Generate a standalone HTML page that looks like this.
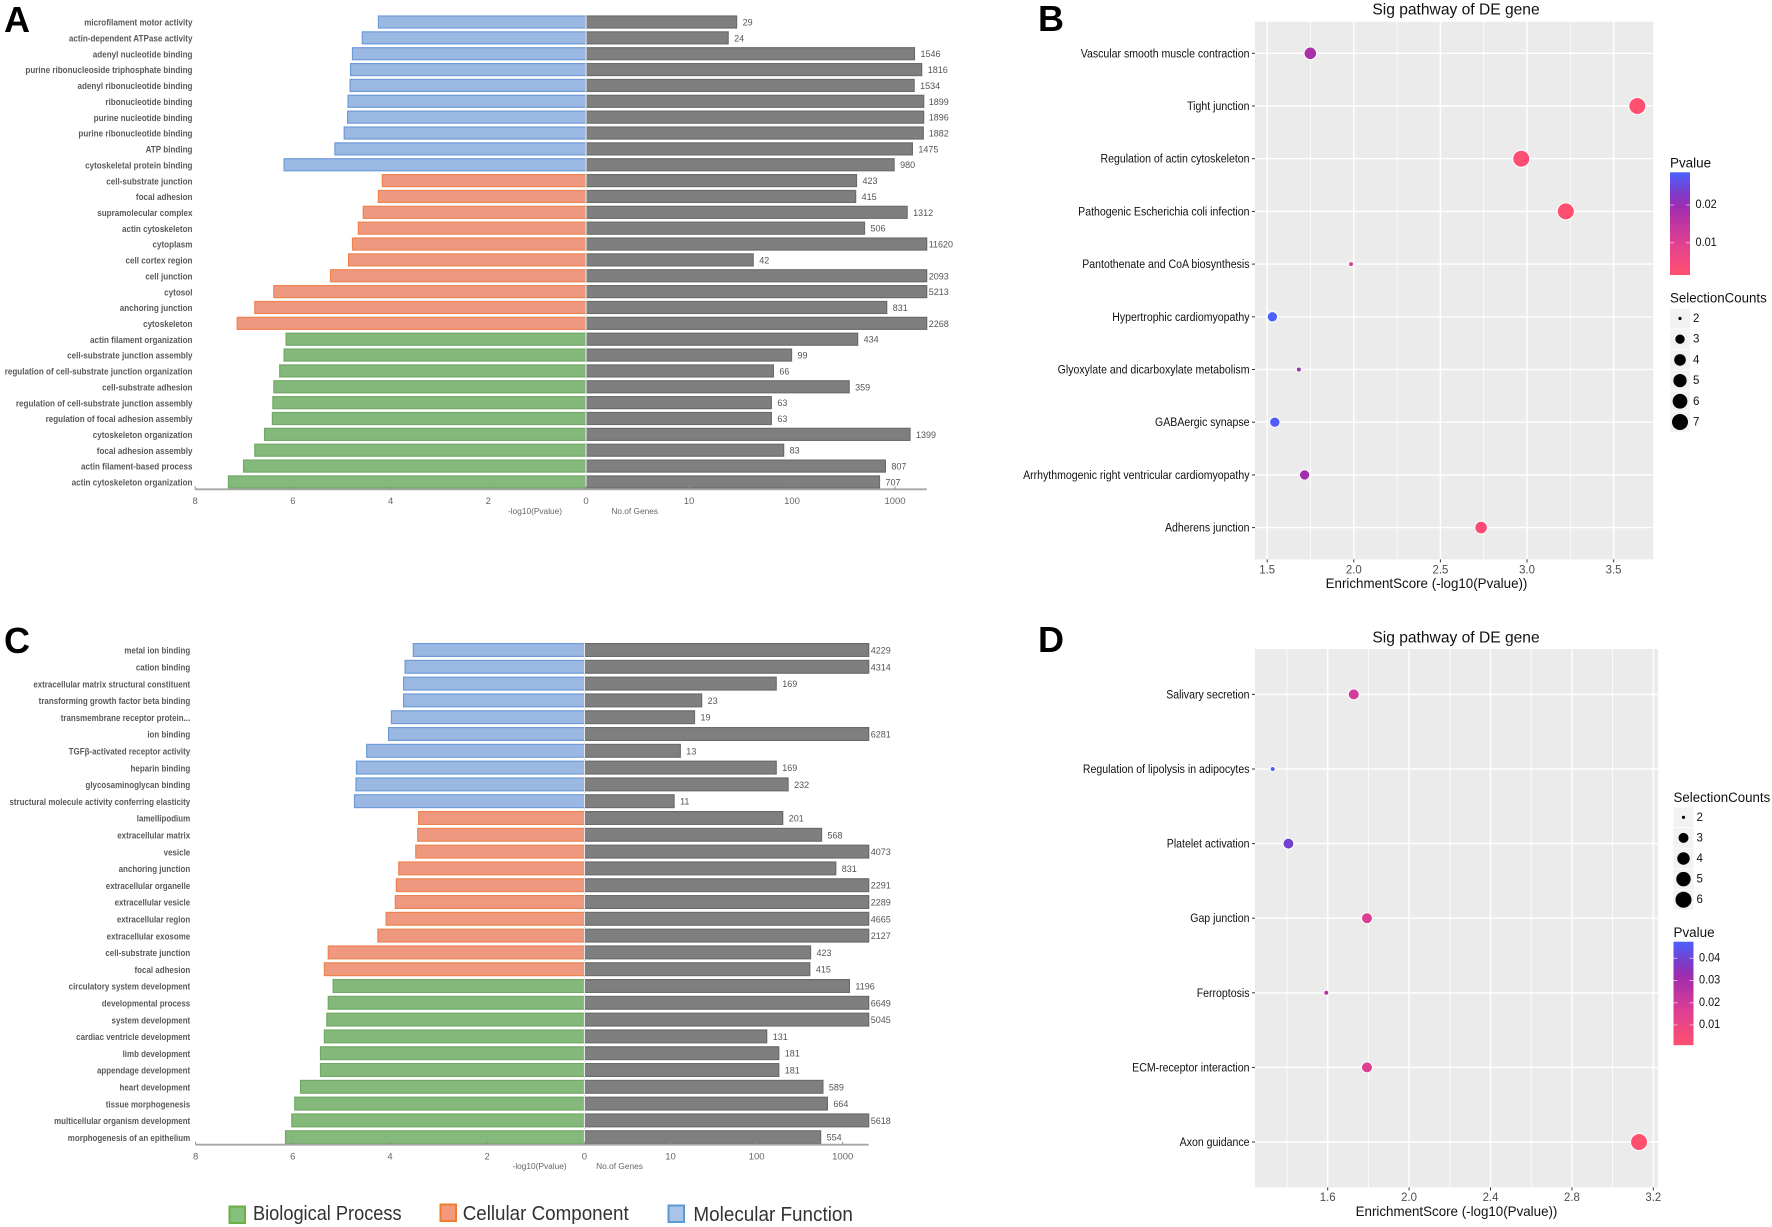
<!DOCTYPE html>
<html lang="en">
<head>
<meta charset="utf-8">
<title>GO enrichment and pathway charts</title>
<style>
html,body{margin:0;padding:0;background:#fff;}
svg{display:block;font-family:"Liberation Sans",sans-serif;}
.soft{filter:blur(0.35px);}
</style>
</head>
<body>
<svg id="figure" xmlns="http://www.w3.org/2000/svg" width="1772" height="1227" viewBox="0 0 1772 1227">
  <defs>
    <linearGradient id="pvalue-gradient" x1="0" y1="0" x2="0" y2="1">
      <stop offset="0" stop-color="#4b61ff"/>
      <stop offset="0.2" stop-color="#7c3cc8"/>
      <stop offset="0.34" stop-color="#a02cae"/>
      <stop offset="0.67" stop-color="#de3f93"/>
      <stop offset="1" stop-color="#ff5070"/>
    </linearGradient>
  </defs>
</svg>
<script>
// ---------- Panel A data ----------
const aCategories = ["microfilament motor activity","actin-dependent ATPase activity","adenyl nucleotide binding","purine ribonucleoside triphosphate binding","adenyl ribonucleotide binding","ribonucleotide binding","purine nucleotide binding","purine ribonucleotide binding","ATP binding","cytoskeletal protein binding","cell-substrate junction","focal adhesion","supramolecular complex","actin cytoskeleton","cytoplasm","cell cortex region","cell junction","cytosol","anchoring junction","cytoskeleton","actin filament organization","cell-substrate junction assembly","regulation of cell-substrate junction organization","cell-substrate adhesion","regulation of cell-substrate junction assembly","regulation of focal adhesion assembly","cytoskeleton organization","focal adhesion assembly","actin filament-based process","actin cytoskeleton organization"];
const aLog10P = [4.25,4.58,4.78,4.82,4.83,4.87,4.88,4.95,5.14,6.18,4.17,4.25,4.56,4.66,4.78,4.86,5.23,6.39,6.78,7.14,6.14,6.18,6.27,6.39,6.41,6.42,6.58,6.78,7.01,7.32];
const aGenes = [29,24,1546,1816,1534,1899,1896,1882,1475,980,423,415,1312,506,11620,42,2093,5213,831,2268,434,99,66,359,63,63,1399,83,807,707];

// ---------- Panel C data ----------
const cCategories = ["metal ion binding","cation binding","extracellular matrix structural constituent","transforming growth factor beta binding","transmembrane receptor protein...","ion binding","TGFβ-activated receptor activity","heparin binding","glycosaminoglycan binding","structural molecule activity conferring elasticity","lamellipodium","extracellular matrix","vesicle","anchoring junction","extracellular organelle","extracellular vesicle","extracellular region","extracellular exosome","cell-substrate junction","focal adhesion","circulatory system development","developmental process","system development","cardiac ventricle development","limb development","appendage development","heart development","tissue morphogenesis","multicellular organism development","morphogenesis of an epithelium"];
const cLog10P = [3.52,3.69,3.72,3.72,3.97,4.03,4.48,4.69,4.70,4.73,3.41,3.43,3.47,3.82,3.87,3.89,4.08,4.25,5.27,5.35,5.17,5.27,5.30,5.35,5.43,5.43,5.84,5.96,6.02,6.15];
const cGenes = [4229,4314,169,23,19,6281,13,169,232,11,201,568,4073,831,2291,2289,4665,2127,423,415,1196,6649,5045,131,181,181,589,664,5618,554];

// ---------- Bar axis ticks ----------
const pTicks = [8,6,4,2,0];
const geneTicks = [10,100,1000];

// ---------- Panel B data ----------
const bPathways = ["Vascular smooth muscle contraction","Tight junction","Regulation of actin cytoskeleton","Pathogenic Escherichia coli infection","Pantothenate and CoA biosynthesis","Hypertrophic cardiomyopathy","Glyoxylate and dicarboxylate metabolism","GABAergic synapse","Arrhythmogenic right ventricular cardiomyopathy","Adherens junction"];
const bScores = [1.749,3.637,2.967,3.224,1.984,1.53,1.683,1.544,1.716,2.735];
const bCounts = [4,7,7,7,2,3,2,3,3,4];
const bMajorTicks = [1.5,2.0,2.5,3.0,3.5];
const bMinorTicks = [1.75,2.25,2.75,3.25];
const bSizeLegend = [2,3,4,5,6,7];
const bPvalueTicks = [0.02,0.01];

// ---------- Panel D data ----------
const dPathways = ["Salivary secretion","Regulation of lipolysis in adipocytes","Platelet activation","Gap junction","Ferroptosis","ECM-receptor interaction","Axon guidance"];
const dScores = [1.728,1.33,1.407,1.793,1.593,1.793,3.13];
const dCounts = [3,2,3,3,2,3,6];
const dMajorTicks = [1.6,2.0,2.4,2.8,3.2];
const dMinorTicks = [1.4,1.8,2.2,2.6,3.0];
const dSizeLegend = [2,3,4,5,6];
const dPvalueTicks = [0.04,0.03,0.02,0.01];

// ---------- Helpers ----------
const NS = 'http://www.w3.org/2000/svg';
const root = document.getElementById('figure');

function mark(tag, attrs, name, parent) {
  const el = document.createElementNS(NS, tag);
  for (const k in attrs) el.setAttribute(k, attrs[k]);
  
  
  (parent || root).appendChild(el);
  return el;
}
function label(x, y, str, name, o) {
  o = o || {};
  const el = document.createElementNS(NS, 'text');
  el.setAttribute('transform', 'translate(' + x + ',' + y + ') scale(' + (o.sx || 1) + ',1)');
  el.setAttribute('font-size', o.size || 12);
  el.setAttribute('fill', o.fill || '#000');
  el.setAttribute('text-anchor', o.anchor || 'start');
  el.setAttribute('dominant-baseline', 'central');
  if (o.bold) el.setAttribute('font-weight', 'bold');
  el.textContent = str;
  
  
  (o.parent || root).appendChild(el);
  return el;
}
function slug(s) {
  return s.toLowerCase().replace(/[^a-z0-9]+/g, '-').replace(/^-|-$/g, '');
}
function hexToRgb(h) {
  return [parseInt(h.slice(1,3),16), parseInt(h.slice(3,5),16), parseInt(h.slice(5,7),16)];
}
const colorStops = [[0,'#ff5070'],[0.33,'#de3f93'],[0.66,'#a02cae'],[0.8,'#7c3cc8'],[1,'#4b61ff']];
function pColor(t) {
  t = Math.max(0, Math.min(1, t));
  for (let i = 1; i < colorStops.length; i++) {
    if (t <= colorStops[i][0]) {
      const a = colorStops[i-1], b = colorStops[i];
      const f = (t - a[0]) / (b[0] - a[0]);
      const ca = hexToRgb(a[1]), cb = hexToRgb(b[1]);
      return 'rgb(' + ca.map((v, j) => Math.round(v + (cb[j] - v) * f)).join(',') + ')';
    }
  }
  return colorStops[colorStops.length - 1][1];
}

// ---------- Diverging GO bar panel ----------
const groupStyles = [
  {fill:'#9ab8e2', stroke:'#6e9bd8', name:'molecular-function'},
  {fill:'#ef9880', stroke:'#ee8350', name:'cellular-component'},
  {fill:'#85b97c', stroke:'#70aa62', name:'biological-process'}
];
function barPanel(id, cats, pvals, genes, g) {
  const panel = mark('g', {class:'soft'}, 'panel-' + id + '-bar-chart');
  const xLeft = v => g.zero - v * g.pxPerP;
  const xRight = v => Math.min(g.zero + Math.log10(v) * g.pxPerDecade, g.clip);
  const yRow = i => g.firstRow + i * g.rowStep;

  cats.forEach((c, i) => {
    const st = groupStyles[Math.floor(i / 10)];
    const y = yRow(i);
    label(g.labelX, y + 0.5, c, 'category-label-' + slug(c), {anchor:'end', size:g.catSize, sx:g.catSx, bold:true, fill:'#5a5a5a', parent:panel});
    const xl = xLeft(pvals[i]);
    mark('rect', {x:xl, y:y - g.barH/2, width:g.zero - xl, height:g.barH, fill:st.fill, stroke:st.stroke, 'stroke-width':1.2}, 'pvalue-bar-' + slug(c), panel);
    const xr = xRight(genes[i]);
    mark('rect', {x:g.zero, y:y - g.barH/2, width:xr - g.zero, height:g.barH, fill:'#7f7f7f', stroke:'#6b6b6b', 'stroke-width':1.2}, 'gene-count-bar-' + slug(c), panel);
    label(Math.min(xr + 6, g.clip + 2), y + 0.5, String(genes[i]), 'gene-count-value-' + slug(c), {size:9, fill:'#555', parent:panel});
  });

  mark('line', {x1:g.zero, x2:g.zero, y1:yRow(0) - g.barH/2 - 1, y2:g.axisY, stroke:'#e4e8ee', 'stroke-width':1.2}, 'zero-divider', panel);
  mark('line', {x1:xLeft(8), x2:g.clip, y1:g.axisY, y2:g.axisY, stroke:'#a6a6a6', 'stroke-width':1.8}, 'x-axis-line', panel);

  pTicks.forEach(t => {
    mark('line', {x1:xLeft(t), x2:xLeft(t), y1:g.axisY - 3, y2:g.axisY, stroke:'#8c8c8c', 'stroke-width':1}, 'pvalue-tick-' + t, panel);
    label(xLeft(t), g.tickY, String(t), 'pvalue-tick-label-' + t, {anchor:'middle', size:9.5, fill:'#666', parent:panel});
  });
  geneTicks.forEach(t => {
    const x = g.zero + Math.log10(t) * g.pxPerDecade;
    mark('line', {x1:x, x2:x, y1:g.axisY - 3, y2:g.axisY, stroke:'#8c8c8c', 'stroke-width':1}, 'gene-tick-' + t, panel);
    label(x, g.tickY, String(t), 'gene-tick-label-' + t, {anchor:'middle', size:9.5, fill:'#666', parent:panel});
  });
  label(g.pTitleX, g.titleY, '-log10(Pvalue)', 'pvalue-axis-title', {anchor:'middle', size:8.5, sx:0.98, fill:'#666', parent:panel});
  label(g.gTitleX, g.titleY, 'No.of Genes', 'gene-axis-title', {anchor:'middle', size:8.5, sx:0.98, fill:'#666', parent:panel});
}

barPanel('a', aCategories, aLog10P, aGenes, {
  zero:586, pxPerP:48.85, pxPerDecade:103, clip:926.7, firstRow:22, rowStep:15.86, barH:12,
  axisY:489.3, tickY:501.7, titleY:510.8, labelX:192.5, catSize:9, catSx:0.9, pTitleX:535, gTitleX:634.7
});
barPanel('c', cCategories, cLog10P, cGenes, {
  zero:584.4, pxPerP:48.6, pxPerDecade:86.1, clip:868.7, firstRow:650, rowStep:16.8, barH:12.8,
  axisY:1144.7, tickY:1157, titleY:1166, labelX:190.2, catSize:9, catSx:0.885, pTitleX:539.6, gTitleX:619.5
});

// ---------- Dot plot panel ----------
function dotPanel(id, pathways, scores, counts, majors, minors, sizes, pTickVals, g) {
  const panel = mark('g', {}, 'panel-' + id + '-dot-plot');
  const sx = v => g.x0 + (v - g.tick0) * g.pxPerUnit;
  const yRow = i => g.firstRow + i * g.rowStep;
  const rad = c => 2 + 6 * Math.sqrt((c - g.cMin) / (g.cMax - g.cMin));

  mark('rect', {x:g.left, y:g.top, width:g.right - g.left, height:g.bottom - g.top, fill:'#ebebeb'}, 'plot-background', panel);
  minors.forEach(t => {
    mark('line', {x1:sx(t), x2:sx(t), y1:g.top, y2:g.bottom, stroke:'#fff', 'stroke-width':0.8}, 'minor-gridline-' + t, panel);
  });
  majors.forEach(t => {
    mark('line', {x1:sx(t), x2:sx(t), y1:g.top, y2:g.bottom, stroke:'#fff', 'stroke-width':1.4}, 'major-gridline-' + t, panel);
    mark('line', {x1:sx(t), x2:sx(t), y1:g.bottom, y2:g.bottom + 3, stroke:'#333', 'stroke-width':1}, 'x-tick-' + t, panel);
    label(sx(t), g.tickY, t.toFixed(1), 'x-tick-label-' + t, {anchor:'middle', size:12, sx:0.95, fill:'#4d4d4d', parent:panel});
  });
  pathways.forEach((p, i) => {
    const y = yRow(i);
    mark('line', {x1:g.left, x2:g.right, y1:y, y2:y, stroke:'#fff', 'stroke-width':1.4}, 'row-gridline-' + slug(p), panel);
    mark('line', {x1:g.left - 3, x2:g.left, y1:y, y2:y, stroke:'#333', 'stroke-width':1}, 'y-tick-' + slug(p), panel);
    label(g.left - 5.5, y + 0.8, p, 'pathway-label-' + slug(p), {anchor:'end', size:12, sx:0.88, fill:'#111', parent:panel});
  });
  pathways.forEach((p, i) => {
    const pv = Math.pow(10, -scores[i]);
    const t = (pv - g.pMin) / (g.pMax - g.pMin);
    mark('circle', {cx:sx(scores[i]), cy:yRow(i), r:rad(counts[i]) + 0.5, fill:pColor(t), stroke:'#fff', 'stroke-width':1}, 'point-' + slug(p), panel);
  });

  label(g.titleX, g.titleY + 1, 'Sig pathway of DE gene', 'chart-title', {anchor:'middle', size:16, sx:0.975, fill:'#111', parent:panel});
  label(g.xTitleX, g.xTitleY - 1, 'EnrichmentScore (-log10(Pvalue))', 'x-axis-title', {anchor:'middle', size:14, sx:0.954, fill:'#111', parent:panel});

  // colour bar legend
  label(g.legX, g.barTitleY, 'Pvalue', 'pvalue-legend-title', {size:14, sx:0.96, fill:'#111', parent:panel});
  mark('rect', {x:g.legX, y:g.barTop, width:20, height:g.barBottom - g.barTop, fill:'url(#pvalue-gradient)'}, 'pvalue-colorbar', panel);
  pTickVals.forEach(p => {
    const y = g.barTop + (g.barMaxP - p) * g.barPxPerP;
    mark('line', {x1:g.legX, x2:g.legX + 4, y1:y, y2:y, stroke:'#fff', 'stroke-opacity':0.6, 'stroke-width':1}, 'pvalue-tick-left-' + p, panel);
    mark('line', {x1:g.legX + 16, x2:g.legX + 20, y1:y, y2:y, stroke:'#fff', 'stroke-opacity':0.6, 'stroke-width':1}, 'pvalue-tick-right-' + p, panel);
    label(g.legX + 25.5, y, p.toFixed(2), 'pvalue-legend-label-' + p, {size:11.5, sx:0.95, fill:'#111', parent:panel});
  });

  // size legend
  label(g.legX, g.sizeTitleY, 'SelectionCounts', 'size-legend-title', {size:14, sx:0.95, fill:'#111', parent:panel});
  sizes.forEach((c, i) => {
    const y = g.keyFirst + i * g.keyStep;
    mark('rect', {x:g.legX, y:y - g.keyStep/2 + 0.5, width:20, height:g.keyStep - 1, fill:'#f2f2f2'}, 'size-key-background-' + c, panel);
    mark('circle', {cx:g.legX + 10, cy:y, r:rad(c) * (c === g.cMin ? 0.8 : 1), fill:'#000'}, 'size-key-dot-' + c, panel);
    label(g.legX + 23, y + 0.5, String(c), 'size-key-label-' + c, {size:11.5, fill:'#111', parent:panel});
  });
}

dotPanel('b', bPathways, bScores, bCounts, bMajorTicks, bMinorTicks, bSizeLegend, bPvalueTicks, {
  left:1255, right:1653.3, top:21.7, bottom:559.4, x0:1267.2, tick0:1.5, pxPerUnit:173.2,
  firstRow:53.3, rowStep:52.7, cMin:2, cMax:7, pMin:0.00023, pMax:0.0295, tickY:570, titleX:1456, titleY:9, xTitleX:1426.5, xTitleY:584.5,
  legX:1670, barTitleY:162.8, barTop:172.3, barBottom:275, barMaxP:0.0287, barPxPerP:3770,
  sizeTitleY:298, keyFirst:318.5, keyStep:20.7
});
dotPanel('d', dPathways, dScores, dCounts, dMajorTicks, dMinorTicks, dSizeLegend, dPvalueTicks, {
  left:1255, right:1658, top:649, bottom:1187.4, x0:1327.7, tick0:1.6, pxPerUnit:203.5,
  firstRow:694.4, rowStep:74.6, cMin:2, cMax:6, pMin:0.00074, pMax:0.0468, tickY:1197.5, titleX:1456, titleY:636.7, xTitleX:1456.5, xTitleY:1212.3,
  legX:1673.5, barTitleY:932.4, barTop:941.7, barBottom:1045.2, barMaxP:0.0475, barPxPerP:2220,
  sizeTitleY:797.5, keyFirst:817.3, keyStep:20.6
});

// ---------- Panel letters ----------
const panelLetters = ['A','B','C','D'];
const letterSpots = {A:[4,32],B:[1038,31],C:[4,653],D:[1038,652]};
panelLetters.forEach(l => {
  const el = document.createElementNS(NS, 'text');
  el.setAttribute('x', letterSpots[l][0]);
  el.setAttribute('y', letterSpots[l][1]);
  el.setAttribute('font-size', 36);
  el.setAttribute('font-weight', 'bold');
  el.setAttribute('fill', '#000');
  el.textContent = l;
  
  
  root.appendChild(el);
});

// ---------- Shared category legend ----------
const legendNames = ['Biological Process','Cellular Component','Molecular Function'];
const legendFills = ['#85c07c','#f39a7c','#a9c4e8'];
const legendStrokes = ['#70ad47','#ed7d31','#5b9bd5'];
const legendBoxX = [229.5,440.5,668.5];
const legendBoxY = [1206.5,1204.5,1205.5];
const legendTextX = [253,462.7,693.4];
const legendTextY = [1214,1214,1215];
const legendTextSx = [0.91,0.94,0.945];
const legendGroup = mark('g', {}, 'go-category-legend');
legendNames.forEach((n, i) => {
  mark('rect', {x:legendBoxX[i], y:legendBoxY[i], width:15.5, height:16.5, fill:legendFills[i], stroke:legendStrokes[i], 'stroke-width':2}, 'legend-swatch-' + slug(n), legendGroup);
  label(legendTextX[i], legendTextY[i], n, 'legend-entry-' + slug(n), {size:20, sx:legendTextSx[i], fill:'#333', parent:legendGroup});
});
</script>
</body>
</html>
